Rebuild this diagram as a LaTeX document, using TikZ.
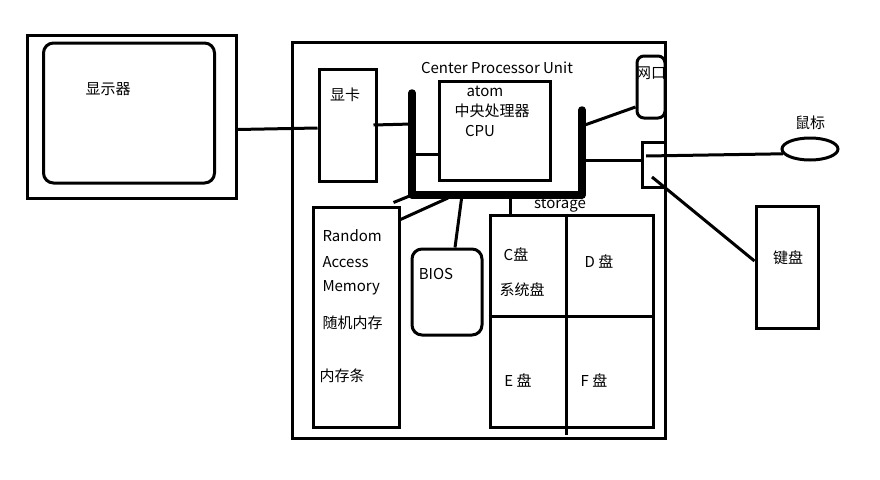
\documentclass[tikz,border=0pt]{standalone}
\usepackage{fontspec}
\setmainfont{Noto Sans CJK SC}
\usetikzlibrary{shapes.geometric}

\begin{document}
\begin{tikzpicture}[x=1pt,y=-1pt,line width=3pt,
    box/.style={draw,rectangle,inner sep=0pt},
    rbox/.style={draw,rectangle,rounded corners=10pt,inner sep=0pt},
    lbl/.style={inner sep=0pt,font=\fontsize{15}{17}\selectfont}]
\useasboundingbox (0,0) rectangle (880,479);
\node[box,minimum width=209pt,minimum height=163pt] (monitor) at (131.5,116.5) {};
\node[rbox,minimum width=171pt,minimum height=140pt] (screen) at (129,113) {};
\node[lbl] (screenlbl) at (108,89) {显示器};
\node[box,minimum width=373pt,minimum height=396pt] (board) at (478.5,240) {};
\node[lbl] (boardlbl) at (497,68) {Center Processor Unit};
\node[box,minimum width=57pt,minimum height=112pt] (gpu) at (347.5,125) {};
\node[lbl] (gpulbl) at (345,95) {显卡};
\node[box,minimum width=111pt,minimum height=99pt] (cpu) at (494.5,130.5) {};
\node[lbl] (cpulbl1) at (485,91) {atom};
\node[lbl] (cpulbl2) at (492,111) {中央处理器};
\node[lbl] (cpulbl3) at (480,131) {CPU};
\node[rbox,rounded corners=7pt,minimum width=28pt,minimum height=62pt] (net) at (651,87) {};
\node[lbl] (netlbl) at (651,73) {网口};
\node[box,minimum width=23pt,minimum height=45pt] (port) at (653.5,164.5) {};
\node[draw,ellipse,inner sep=0pt,minimum width=56pt,minimum height=22pt] (mouse) at (810,149) {};
\node[lbl] (mouselbl) at (810,123) {鼠标};
\node[box,minimum width=62pt,minimum height=122pt] (kbd) at (787,267) {};
\node[lbl] (kbdlbl) at (788,258) {键盘};
\node[box,minimum width=86pt,minimum height=220pt] (ram) at (356,317) {};
\node[lbl,anchor=west] (ramlbl1) at (321,236) {Random};
\node[lbl,anchor=west] (ramlbl2) at (321,262) {Access};
\node[lbl,anchor=west] (ramlbl3) at (321,288) {Memory};
\node[lbl,anchor=west] (ramlbl4) at (321,323) {随机内存};
\node[lbl,anchor=west] (ramlbl5) at (318,376) {内存条};
\node[rbox,minimum width=70pt,minimum height=86pt] (bios) at (447,292) {};
\node[lbl] (bioslbl) at (436,274) {BIOS};
\node[box,minimum width=163pt,minimum height=212pt] (storage) at (571.5,321) {};
\node[lbl] (storagelbl) at (560,205) {storage};
\node[lbl] (clbl) at (516,255) {C盘};
\node[lbl] (sysclbl) at (522,290) {系统盘};
\node[lbl] (dlbl) at (599,262) {D 盘};
\node[lbl] (elbl) at (518,381) {E 盘};
\node[lbl] (flbl) at (594,381) {F 盘};
\draw ([xshift=-5.5pt]storage.north) -- ([xshift=-5.5pt,yshift=-6pt]storage.south);
\draw ([yshift=5pt]storage.west) -- ([yshift=5pt]storage.east);
\coordinate (busTL) at (412,93);
\coordinate (busBL) at (412,195);
\coordinate (busBR) at (582,195);
\coordinate (busTR) at (582,110);
\draw[line width=7.5pt,line cap=round,line join=round] (busTL) -- (busBL) -- (busBR) -- (busTR);
\coordinate (bus-gpu) at (412,124);
\coordinate (bus-cpu) at (412,154);
\coordinate (bus-net) at (582,126);
\coordinate (bus-port) at (582,160);
\coordinate (bus-ram) at (448,198);
\coordinate (bus-bios) at (462,195);
\coordinate (bus-sto) at (510,195);
\coordinate (port-m) at (646,156);
\coordinate (port-k) at (652,177);
\draw ([yshift=-13pt]monitor.east) -- ([yshift=-3pt]gpu.west);
\draw ([xshift=-4pt]gpu.east) -- (bus-gpu);
\draw (bus-cpu) -- (cpu.west |- bus-cpu);
\draw (bus-net) -- ([yshift=-20pt]net.west);
\draw (bus-port) -- (port.west |- bus-port);
\draw (port-m) -- (mouse.190);
\draw (port-k) -- ([yshift=6pt]kbd.west);
\draw ([xshift=-7pt,yshift=3pt]ram.north east) -- (busBL);
\draw ([yshift=-14pt]ram.north east) -- (bus-ram);
\draw (bus-bios) -- ([xshift=8pt]bios.north);
\draw (bus-sto) -- (bus-sto |- storage.north);
\end{tikzpicture}
\end{document}
